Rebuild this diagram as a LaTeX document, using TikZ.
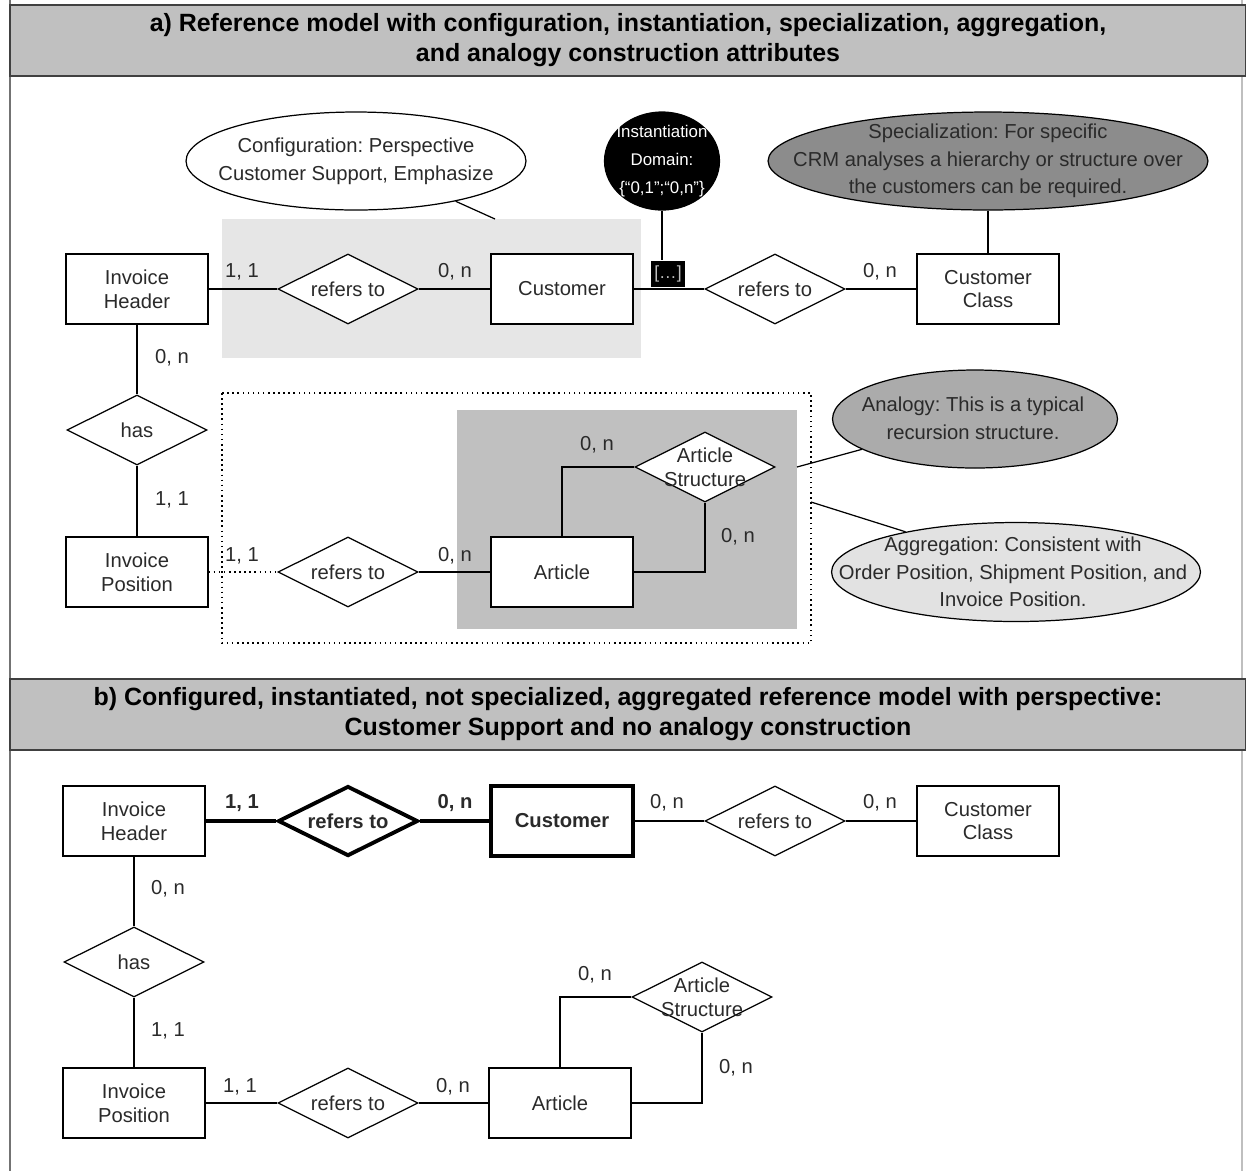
\documentclass[tikz,border=0pt]{standalone}
\usepackage{fontspec}
\setmainfont{Liberation Sans}
\usetikzlibrary{shapes.geometric}
\definecolor{boxgray}{HTML}{C0C0C0}
\definecolor{cfggray}{HTML}{E6E6E6}
\definecolor{specgray}{HTML}{8C8C8C}
\definecolor{anagray}{HTML}{ABABAB}
\definecolor{agggray}{HTML}{E2E2E2}
\definecolor{ink}{HTML}{2A2A2A}
\frenchspacing
\begin{document}
\begin{tikzpicture}[x=0.02cm,y=-0.02cm,line width=0.7pt,
    font=\fontsize{11.5}{13.6}\selectfont,text=ink,
    entity/.style={draw,fill=white,align=center,inner sep=0pt,minimum width=2.84cm,minimum height=1.4cm},
    rel/.style={draw,fill=white,diamond,aspect=2,inner sep=0pt,minimum width=2.8cm,minimum height=1.4cm},
    bubble/.style={draw,ellipse,inner sep=0pt,minimum height=1.96cm},
    btext/.style={align=center,inner sep=0pt,font=\fontsize{11.5}{15.8}\selectfont},
    header/.style={draw=black!75,line width=1.3pt,fill=boxgray,minimum width=24.72cm,minimum height=1.42cm,
        align=center,inner sep=0pt,text=black,font=\bfseries\fontsize{14.2}{17}\selectfont},
    heavy/.style={line width=2.2pt}]
\useasboundingbox (0,0) rectangle (1246,1171);

% frame and titles
\draw[line width=1.6pt,black!55] (10,0) -- (10,1171);
\draw[black!25] (1242,0) -- (1242,1171);
\node[header] (ta) at (628,40.5) {a) Reference model with configuration, instantiation, specialization, aggregation,\\and analogy construction attributes};
\node[header] (tb) at (628,714.5) {b) Configured, instantiated, not specialized, aggregated reference model with perspective:\\Customer Support and no analogy construction};

% a) reference model
\fill[cfggray] (222,219) rectangle (641,358);
\draw[dotted,line width=0.9pt] (222,393) rectangle (811,643);
\fill[boxgray] (457,410) rectangle (797,629);

\node[entity] (ih) at (137,289) {Invoice\\Header};
\node[rel] (r1) at (348,289) {refers to};
\node[entity] (cu) at (562,289) {Customer};
\node[rel] (r2) at (775,289) {refers to};
\node[entity] (cc) at (988,289) {Customer\\Class};
\node[rel] (has) at (137,430) {has};
\node[entity] (ip) at (137,572) {Invoice\\Position};
\node[rel] (r3) at (348,572) {refers to};
\node[entity] (ar) at (562,572) {Article};
\node[rel] (as) at (705,467) {};
\node[align=center,inner sep=0pt] (ast) at (705,467) {Article\\Structure};

\node[bubble,fill=white,minimum width=6.8cm] (cfg) at (356,161) {};
\node[btext] (cfgt) at (356,161) {Configuration: Perspective\\Customer Support, Emphasize};
\node[bubble,fill=black,minimum width=2.3cm] (inst) at (662,161) {};
\node[btext,text=white,font=\fontsize{9.6}{15.8}\selectfont] (instt) at (662,161) {Instantiation\\Domain:\\\{“0,1”;“0,n”\}};
\node[bubble,fill=specgray,minimum width=8.8cm] (spec) at (988,161) {};
\node[btext] (spect) at (988,161) {Specialization: For specific\\CRM analyses a hierarchy or structure over\\the customers can be required.};
\node[bubble,fill=anagray,minimum width=5.7cm] (ana) at (975,419) {};
\node[btext] (anat) at (973,418) {Analogy: This is a typical\\recursion structure.};
\node[bubble,fill=agggray,minimum width=7.38cm,minimum height=1.98cm] (agg) at (1016,572) {};
\node[btext] (aggt) at (1013,572) {Aggregation: Consistent with\\Order Position, Shipment Position, and\\Invoice Position.};
\node[fill=black,minimum width=0.68cm,minimum height=0.52cm,inner sep=0pt,text=black!25,font=\fontsize{10}{12}\selectfont] (dots) at (668,274) {[\dots]};

\draw (ih) -- (r1) -- (cu) -- (r2) -- (cc);
\draw (ih) -- (has) -- (ip);
\draw[dotted,line width=0.9pt] (ip) -- (r3);
\draw (r3) -- (ar);
\draw (ar.north) |- (as.west);
\draw (ar.east) -| (as.south);
\draw (inst.south) -- (inst.south |- dots.north);
\draw (spec) -- (cc);
\coordinate (cfgtip) at (495,219);
\coordinate (anatip) at (797,467);
\coordinate (aggtip) at (811,502);
\draw (cfg.-22) -- (cfgtip);
\draw (anatip) -- (ana.195);
\draw (aggtip) -- (agg.160);

\node (a1) at (242,272) {1, 1};
\node (a2) at (455,272) {0, n};
\node (a3) at (880,272) {0, n};
\node (a4) at (172,358) {0, n};
\node (a5) at (172,500) {1, 1};
\node (a6) at (242,556) {1, 1};
\node (a7) at (455,556) {0, n};
\node (a8) at (597,445) {0, n};
\node (a9) at (738,537) {0, n};

% b) configured model
\node[entity] (ih2) at (134,821) {Invoice\\Header};
\node[rel,heavy] (r4) at (348,821) {\bfseries refers to};
\node[entity,heavy] (cu2) at (562,821) {\bfseries Customer};
\node[rel] (r5) at (775,821) {refers to};
\node[entity] (cc2) at (988,821) {Customer\\Class};
\node[rel] (has2) at (134,962) {has};
\node[entity] (ip2) at (134,1103) {Invoice\\Position};
\node[rel] (r6) at (348,1103) {refers to};
\node[entity] (ar2) at (560,1103) {Article};
\node[rel] (as2) at (702,997) {};
\node[align=center,inner sep=0pt] (ast2) at (702,997) {Article\\Structure};

\draw[heavy] (ih2) -- (r4) -- (cu2);
\draw (cu2) -- (r5) -- (cc2);
\draw (ih2) -- (has2) -- (ip2);
\draw (ip2) -- (r6) -- (ar2);
\draw (ar2.north) |- (as2.west);
\draw (ar2.east) -| (as2.south);

\node[font=\bfseries\fontsize{11.5}{13.6}\selectfont] (b1) at (242,803) {1, 1};
\node[font=\bfseries\fontsize{11.5}{13.6}\selectfont] (b2) at (455,803) {0, n};
\node (b3) at (667,803) {0, n};
\node (b4) at (880,803) {0, n};
\node (b5) at (168,889) {0, n};
\node (b6) at (168,1031) {1, 1};
\node (b7) at (240,1087) {1, 1};
\node (b8) at (453,1087) {0, n};
\node (b9) at (595,975) {0, n};
\node (b10) at (736,1068) {0, n};
\end{tikzpicture}
\end{document}
